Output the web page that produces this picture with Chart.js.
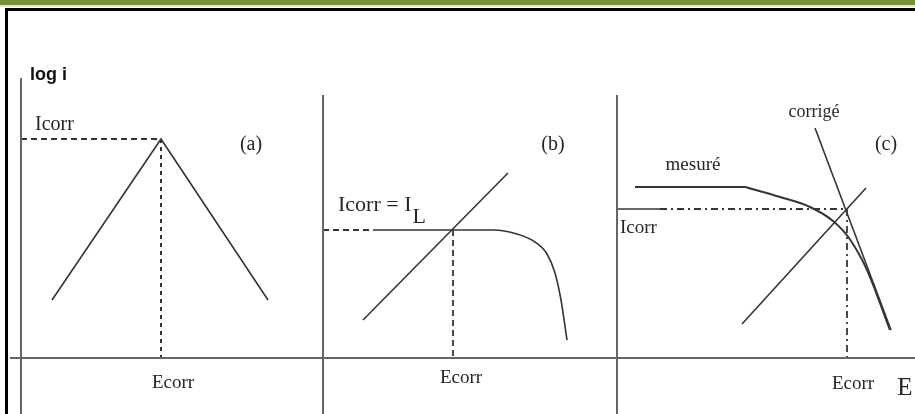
<!DOCTYPE html>
<html>
<head>
<meta charset="utf-8">
<title>Courbes de polarisation</title>
<script src="https://cdn.jsdelivr.net/npm/chart.js@4.4.0/dist/chart.umd.min.js"></script>
<style>
    body { margin: 0; background: #fff; }
    .page { position: relative; width: 915px; height: 414px; overflow: hidden; background: #fff; }
    .band { position: absolute; left: 0; top: 0; width: 915px; height: 5px; background: #76923c; }
    .band-edge { position: absolute; left: 0; top: 5px; width: 915px; height: 2px; background: #dfe8c8; }
    .frame { position: absolute; left: 5px; top: 8px; width: 930px; height: 430px; border-top: 3px solid #000; border-left: 3px solid #000; }
    #diagram { position: absolute; left: 0; top: 0; }
</style>
</head>
<body>
<div class="page">
    <div class="band"></div>
    <div class="band-edge"></div>
    <div class="frame"></div>
    <canvas id="diagram" width="915" height="414"></canvas>
</div>

<script>
// Potential E (arbitrary units, left to right across the three panels)
// and log i (arbitrary units, 0 on the E axis). Each point is [E, log i].

// Axes
const axisE = [[10, 0], [915, 0]];
const axisLogI_a = [[21, 280], [21, -56]];
const axisLogI_b = [[323, 263], [323, -56]];
const axisLogI_c = [[617, 263], [617, -56]];

// (a) activation control
const tafelA = [[52, 58], [161, 219], [268, 58]];
const icorrA = [[21, 219], [161, 219]];
const ecorrA = [[161, 219], [161, 0]];

// (b) diffusion control, limiting current I_L
const cathodicB = [[373, 128], [493, 128], [517, 124], [535, 116], [547, 104], [555, 85], [561, 58], [567, 18]];
const anodicB = [[363, 38], [508, 185]];
const icorrB = [[323, 128], [373, 128]];
const ecorrB = [[453, 128], [453, 0]];

// (c) ohmic drop: measured (plateau then bending down) vs corrected
const plateauC = [[635, 171], [745, 171]];
const measuredC = [[745, 171], [780, 161], [810, 151], [833, 137], [849, 120], [867, 88], [890, 28]];
const correctedC = [[815, 230], [891, 28]];
const anodicC = [[742, 34], [866, 170]];
const icorrSolidC = [[617, 149], [660, 149]];
const icorrC = [[660, 149], [847, 149]];
const ecorrC = [[847, 149], [847, 0]];

// Text placed on the diagram, at [E, log i]
const serif = "'Liberation Serif', 'Times New Roman', serif";
const labels = [
    { text: "log i", at: [30, 283], font: "bold 18px 'Liberation Sans', Arial, sans-serif", align: "left", color: "#111" },
    { text: "Icorr", at: [35, 233], font: "20px " + serif, align: "left" },
    { text: "(a)", at: [251, 213], font: "20px " + serif },
    { text: "Ecorr", at: [173, -25], font: "19px " + serif },
    { text: "(b)", at: [553, 213], font: "20px " + serif },
    { text: "Icorr = I", sub: "L", at: [338, 153], font: "22px " + serif, align: "left" },
    { text: "Ecorr", at: [461, -20], font: "19px " + serif },
    { text: "mesuré", at: [693, 193], font: "19px " + serif },
    { text: "corrigé", at: [814, 246], font: "18px " + serif },
    { text: "(c)", at: [886, 213], font: "20px " + serif },
    { text: "Icorr", at: [620, 130], font: "19px " + serif, align: "left" },
    { text: "Ecorr", at: [853, -26], font: "19px " + serif },
    { text: "E", at: [905, -30], font: "25px " + serif }
];

const lineColor = "#353535";
const axisColor = "#666";
const textColor = "#262626";

function curve(points, opts) {
    return Object.assign({
        data: points.map(p => ({ x: p[0], y: p[1] })),
        showLine: true,
        fill: false,
        pointRadius: 0,
        borderColor: lineColor,
        borderWidth: 1.6,
        tension: 0
    }, opts || {});
}

// Draws the labels after the curves
const labelPlugin = {
    id: "diagramLabels",
    afterDatasetsDraw(chart) {
        const ctx = chart.ctx;
        const xs = chart.scales.x;
        const ys = chart.scales.y;
        labels.forEach(l => {
            const px = xs.getPixelForValue(l.at[0]);
            const py = ys.getPixelForValue(l.at[1]);
            ctx.save();
            ctx.font = l.font;
            ctx.fillStyle = l.color || textColor;
            ctx.textAlign = l.align || "center";
            ctx.textBaseline = "middle";
            ctx.fillText(l.text, px, py);
            if (l.sub) {
                const w = ctx.measureText(l.text).width;
                ctx.textAlign = "left";
                ctx.fillText(l.sub, px + w + 1, py + 12);
            }
            ctx.restore();
        });
    }
};

new Chart(document.getElementById("diagram"), {
    type: "scatter",
    data: {
        datasets: [
            curve(axisE, { borderColor: axisColor, borderWidth: 2.2 }),
            curve(axisLogI_a, { borderColor: axisColor, borderWidth: 2 }),
            curve(axisLogI_b, { borderColor: axisColor, borderWidth: 2 }),
            curve(axisLogI_c, { borderColor: axisColor, borderWidth: 2 }),

            curve(tafelA),
            curve(icorrA, { borderDash: [6, 4], borderWidth: 2 }),
            curve(ecorrA, { borderDash: [4, 4], borderWidth: 2 }),

            curve(cathodicB, { cubicInterpolationMode: "monotone" }),
            curve(anodicB),
            curve(icorrB, { borderDash: [6, 4], borderWidth: 1.8 }),
            curve(ecorrB, { borderDash: [6, 4], borderWidth: 1.8 }),

            curve(plateauC, { borderWidth: 2.2 }),
            curve(measuredC, { cubicInterpolationMode: "monotone", borderWidth: 2 }),
            curve(correctedC),
            curve(anodicC),
            curve(icorrSolidC),
            curve(icorrC, { borderDash: [7, 4, 2, 4], borderWidth: 1.8 }),
            curve(ecorrC, { borderDash: [7, 4, 2, 4], borderWidth: 1.8 })
        ]
    },
    options: {
        responsive: false,
        animation: false,
        devicePixelRatio: 1,
        layout: { padding: 0 },
        plugins: {
            legend: { display: false },
            tooltip: { enabled: false }
        },
        scales: {
            x: { type: "linear", min: 0, max: 915, display: false },
            y: { type: "linear", min: -56, max: 358, display: false }
        }
    },
    plugins: [labelPlugin]
});
</script>
</body>
</html>
